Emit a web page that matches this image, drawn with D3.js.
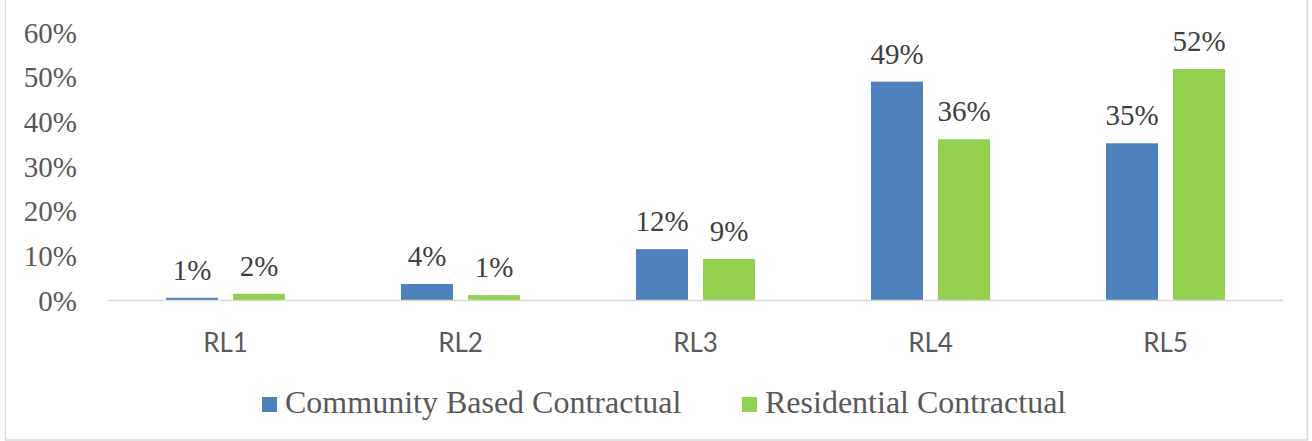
<!DOCTYPE html>
<html>
<head>
<meta charset="utf-8">
<script src="https://cdn.jsdelivr.net/npm/d3@7"></script>
<style>
  body { margin: 0; background: #fff; }
</style>
</head>
<body>
<script>
var categories = ["RL1", "RL2", "RL3", "RL4", "RL5"];
var seriesNames = ["Community Based Contractual", "Residential Contractual"];
var seriesColors = ["#4f81bd", "#92d050"];

var communityValues = [0.006, 0.037, 0.115, 0.490, 0.352];
var residentialValues = [0.015, 0.012, 0.093, 0.361, 0.518];
var communityLabels = ["1%", "4%", "12%", "49%", "35%"];
var residentialLabels = ["2%", "1%", "9%", "36%", "52%"];

var yTicks = [0, 0.1, 0.2, 0.3, 0.4, 0.5, 0.6];

var rows = categories.map(function(c, i) {
    return {
        cat: c,
        values: [
            {s: 0, v: communityValues[i], label: communityLabels[i]},
            {s: 1, v: residentialValues[i], label: residentialLabels[i]}
        ]
    };
});

var width = 1312, height = 441;

var svg = d3.select("body")
            .append("svg")
            .attr("width", width)
            .attr("height", height);

// outer frame of the chart area
svg.append("rect")
   .attr("x", 5.5)
   .attr("y", -1)
   .attr("width", 1302)
   .attr("height", 441)
   .attr("fill", "none")
   .attr("stroke", "#d9d9d9")
   .attr("stroke-width", 1.5);

var x0 = d3.scaleBand()
           .domain(categories)
           .range([108, 1283])
           .paddingInner(0.4936)
           .paddingOuter(0.2468);

var x1 = d3.scaleBand()
           .domain([0, 1])
           .range([0, x0.bandwidth()])
           .paddingInner(0.224);

var y = d3.scaleLinear()
          .domain([0, 0.6])
          .range([300.5, 32.5]);

// y axis labels (no line, no ticks)
var yAxis = d3.axisLeft(y)
              .tickValues(yTicks)
              .tickFormat(d3.format(".0%"))
              .tickSize(0)
              .tickPadding(0);

var yg = svg.append("g")
            .attr("transform", "translate(77,0)")
            .call(yAxis);
yg.select(".domain").remove();
yg.selectAll("text")
  .attr("dy", "9.5px")
  .style("font-family", "'Liberation Serif', 'Times New Roman', serif")
  .style("font-size", "29px")
  .attr("fill", "#595959");

// category axis
var xAxis = d3.axisBottom(x0)
              .tickSize(0)
              .tickPadding(0);

var xg = svg.append("g")
            .attr("transform", "translate(0," + y(0) + ")")
            .call(xAxis);
xg.select(".domain").remove();
xg.selectAll("text")
  .attr("y", 51)
  .attr("dy", 0)
  .style("font-family", "Lato, 'Open Sans', sans-serif")
  .style("font-size", "26px")
  .attr("fill", "#595959");

// bars
var groups = svg.selectAll(".grp")
                .data(rows)
                .enter()
                .append("g")
                .attr("class", "grp")
                .attr("transform", function(d) { return "translate(" + x0(d.cat) + ",0)"; });

groups.selectAll("rect")
      .data(function(d) { return d.values; })
      .enter()
      .append("rect")
      .attr("x", function(d) { return x1(d.s); })
      .attr("y", function(d) { return y(d.v); })
      .attr("width", x1.bandwidth())
      .attr("height", function(d) { return y(0) - y(d.v); })
      .attr("fill", function(d) { return seriesColors[d.s]; });

// baseline
svg.append("line")
   .attr("x1", 108)
   .attr("x2", 1283)
   .attr("y1", y(0))
   .attr("y2", y(0))
   .attr("stroke", "#d9d9d9")
   .attr("stroke-width", 1.5);

// data labels
groups.selectAll(".lbl")
      .data(function(d) { return d.values; })
      .enter()
      .append("text")
      .attr("class", "lbl")
      .attr("x", function(d) { return x1(d.s) + x1.bandwidth() / 2; })
      .attr("y", function(d) { return y(d.v) - 18; })
      .attr("text-anchor", "middle")
      .style("font-family", "'Liberation Serif', 'Times New Roman', serif")
      .style("font-size", "29px")
      .attr("fill", "#404040")
      .text(function(d) { return d.label; });

// legend
var legendX = [262, 742];
var legend = svg.selectAll(".leg")
                .data(seriesNames)
                .enter()
                .append("g")
                .attr("class", "leg")
                .attr("transform", function(d, i) { return "translate(" + legendX[i] + ",397)"; });

legend.append("rect")
      .attr("width", 15)
      .attr("height", 15)
      .attr("fill", function(d, i) { return seriesColors[i]; });

legend.append("text")
      .attr("x", 23)
      .attr("y", 16)
      .style("font-family", "'Liberation Serif', 'Times New Roman', serif")
      .style("font-size", "32px")
      .attr("fill", "#595959")
      .text(function(d) { return d; });
</script>
</body>
</html>
